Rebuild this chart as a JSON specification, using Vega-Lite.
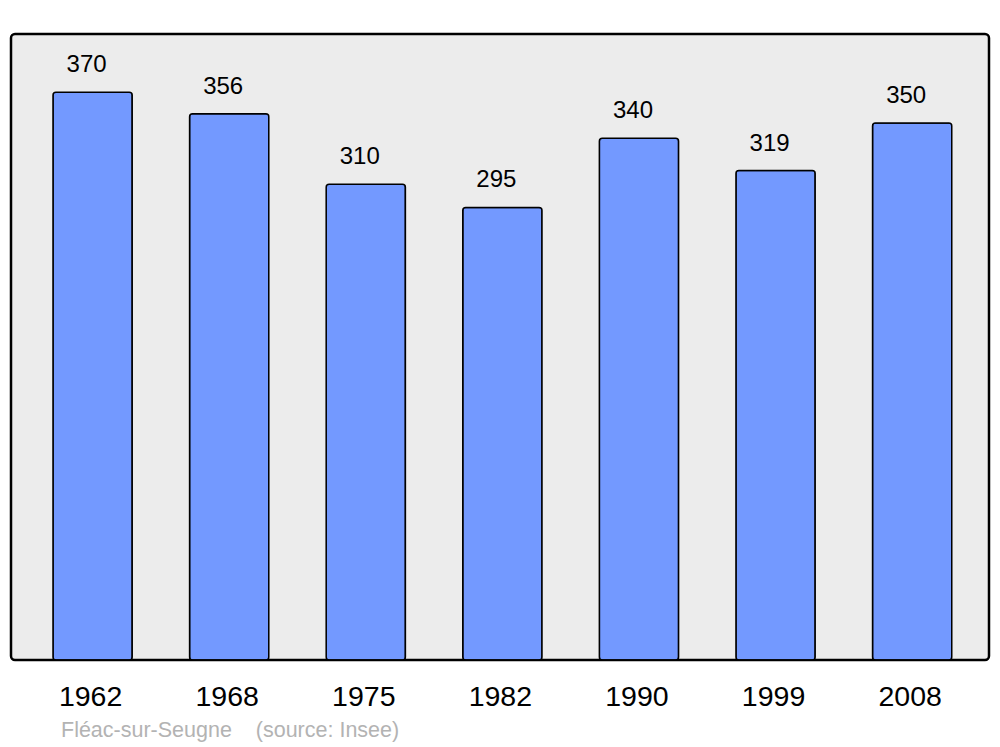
{
  "$schema": "https://vega.github.io/schema/vega-lite/v6.json",
  "width": 978,
  "height": 626,
  "autosize": {"type": "none"},
  "padding": {"left": 11, "top": 34, "right": 11, "bottom": 87},
  "background": "#ffffff",
  "config": {
    "view": {"fill": "#ececec", "stroke": "#000000", "strokeWidth": 2.5, "cornerRadius": 4},
    "font": "Liberation Sans"
  },
  "title": {
    "text": "Fléac-sur-Seugne\u00a0\u00a0\u00a0\u00a0(source: Insee)",
    "orient": "bottom",
    "anchor": "start",
    "frame": "group",
    "dx": 50,
    "offset": 9,
    "fontSize": 21.5,
    "fontWeight": "normal",
    "font": "Liberation Sans",
    "color": "#b3b3b3"
  },
  "data": {
    "values": [
      {"year": "1962", "pop": 370},
      {"year": "1968", "pop": 356},
      {"year": "1975", "pop": 310},
      {"year": "1982", "pop": 295},
      {"year": "1990", "pop": 340},
      {"year": "1999", "pop": 319},
      {"year": "2008", "pop": 350}
    ]
  },
  "encoding": {
    "x": {
      "field": "year",
      "type": "ordinal",
      "sort": null,
      "scale": {"paddingInner": 0.42, "paddingOuter": 0.29, "align": 0.53},
      "axis": {
        "title": null,
        "domain": false,
        "ticks": false,
        "labelAngle": 0,
        "labelFontSize": 28.5,
        "labelFont": "Liberation Sans",
        "labelColor": "#000000",
        "labelPadding": 22,
        "labelOffset": -2
      }
    },
    "y": {
      "field": "pop",
      "type": "quantitative",
      "scale": {"domain": [0, 408], "nice": false},
      "axis": null
    }
  },
  "layer": [
    {
      "mark": {"type": "bar", "fill": "#7399ff", "stroke": "#000000", "strokeWidth": 1.5, "cornerRadius": 3}
    },
    {
      "mark": {"type": "text", "dy": -20, "dx": -6, "baseline": "alphabetic", "fontSize": 24, "font": "Liberation Sans", "color": "#000000"},
      "encoding": {"text": {"field": "pop", "type": "quantitative"}}
    }
  ]
}
